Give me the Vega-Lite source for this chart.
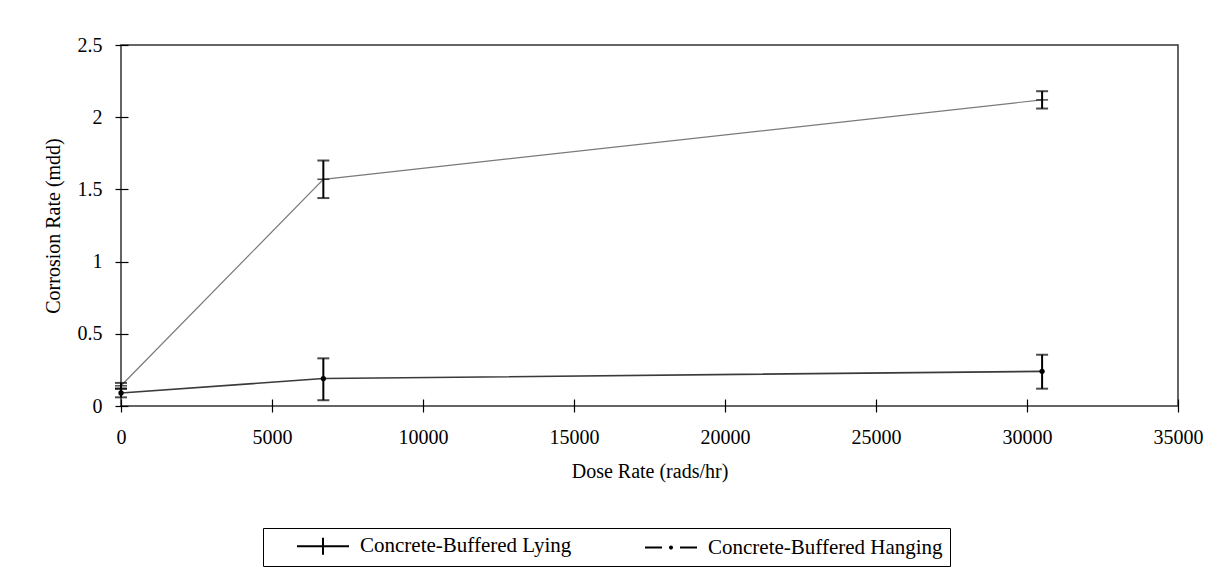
{
  "$schema": "https://vega.github.io/schema/vega-lite/v6.json",
  "autosize": "none",
  "width": 1057,
  "height": 361,
  "padding": {"left": 121, "top": 45, "right": 49, "bottom": 180},
  "background": "white",
  "data": {
    "values": [
      {"series": "Concrete-Buffered Lying", "dose": 0, "rate": 0.14, "lo": 0.12, "hi": 0.16},
      {"series": "Concrete-Buffered Lying", "dose": 6700, "rate": 1.57, "lo": 1.44, "hi": 1.7},
      {"series": "Concrete-Buffered Lying", "dose": 30500, "rate": 2.12, "lo": 2.06, "hi": 2.18},
      {"series": "Concrete-Buffered Hanging", "dose": 0, "rate": 0.09, "lo": 0.06, "hi": 0.12},
      {"series": "Concrete-Buffered Hanging", "dose": 6700, "rate": 0.19, "lo": 0.04, "hi": 0.33},
      {"series": "Concrete-Buffered Hanging", "dose": 30500, "rate": 0.24, "lo": 0.12, "hi": 0.355}
    ]
  },
  "encoding": {
    "x": {
      "field": "dose",
      "type": "quantitative",
      "scale": {"domain": [0, 35000], "nice": false, "zero": true},
      "axis": {
        "title": "Dose Rate (rads/hr)",
        "values": [0, 5000, 10000, 15000, 20000, 25000, 30000, 35000],
        "format": "d",
        "labelFlush": false,
        "labelOverlap": false,
        "labelPadding": 15,
        "titlePadding": 14
      }
    },
    "y": {
      "field": "rate",
      "type": "quantitative",
      "scale": {"domain": [0, 2.5], "nice": false},
      "axis": {
        "title": "Corrosion Rate (mdd)",
        "values": [0, 0.5, 1, 1.5, 2, 2.5],
        "format": "~g",
        "labelPadding": 13,
        "titlePadding": 14
      }
    }
  },
  "layer": [
    {
      "mark": {"type": "line", "clip": false},
      "encoding": {
        "detail": {"field": "series", "type": "nominal"},
        "color": {
          "condition": {"test": "datum.series === 'Concrete-Buffered Lying'", "value": "#7a7a7a"},
          "value": "#3a3a3a"
        },
        "strokeWidth": {
          "condition": {"test": "datum.series === 'Concrete-Buffered Lying'", "value": 1.2},
          "value": 1.6
        }
      }
    },
    {
      "mark": {"type": "rule", "color": "black", "strokeWidth": 2},
      "encoding": {"y": {"field": "lo", "type": "quantitative"}, "y2": {"field": "hi"}}
    },
    {
      "mark": {"type": "tick", "orient": "horizontal", "color": "black", "size": 12, "thickness": 2},
      "encoding": {"y": {"field": "lo", "type": "quantitative"}}
    },
    {
      "mark": {"type": "tick", "orient": "horizontal", "color": "black", "size": 12, "thickness": 2},
      "encoding": {"y": {"field": "hi", "type": "quantitative"}}
    },
    {
      "transform": [{"filter": "datum.series === 'Concrete-Buffered Lying'"}],
      "mark": {"type": "tick", "orient": "horizontal", "color": "black", "size": 12, "thickness": 1.5}
    },
    {
      "transform": [{"filter": "datum.series === 'Concrete-Buffered Hanging'"}],
      "mark": {"type": "point", "shape": "circle", "filled": true, "color": "black", "size": 28, "opacity": 1}
    },
    {
      "mark": {"type": "point", "filled": false, "stroke": "black", "strokeWidth": 1.5, "opacity": 0},
      "encoding": {
        "shape": {
          "field": "series",
          "type": "nominal",
          "scale": {
            "domain": ["Concrete-Buffered Lying", "Concrete-Buffered Hanging"],
            "range": [
              "M-2.6,0H2.6M0,-0.85V0.85",
              "M-2.6,0H-0.9M0.9,0H2.6M-0.1,0A0.1,0.1 0 1,0 0.1,0A0.1,0.1 0 1,0 -0.1,0Z"
            ]
          },
          "legend": {
            "title": null,
            "orient": "none",
            "legendX": 142,
            "legendY": 483,
            "direction": "horizontal",
            "strokeColor": "black",
            "fillColor": "white",
            "padding": 7,
            "symbolSize": 400,
            "symbolOffset": 42,
            "symbolOpacity": 1,
            "symbolStrokeColor": "black",
            "symbolStrokeWidth": 2,
            "labelFontSize": 21,
            "labelColor": "black",
            "labelOffset": 26,
            "labelLimit": 400,
            "columnPadding": 46
          }
        }
      }
    }
  ],
  "config": {
    "font": "Liberation Serif",
    "view": {"stroke": "#333", "strokeWidth": 1.5},
    "axis": {
      "grid": false,
      "domain": false,
      "offset": -7,
      "tickSize": 13,
      "tickColor": "black",
      "tickWidth": 1.2,
      "labelFontSize": 20,
      "labelColor": "black",
      "labelFont": "Liberation Serif",
      "titleFont": "Liberation Serif",
      "titleFontSize": 20,
      "titleFontWeight": "normal",
      "titleColor": "black"
    },
    "legend": {"labelFont": "Liberation Serif"}
  }
}
